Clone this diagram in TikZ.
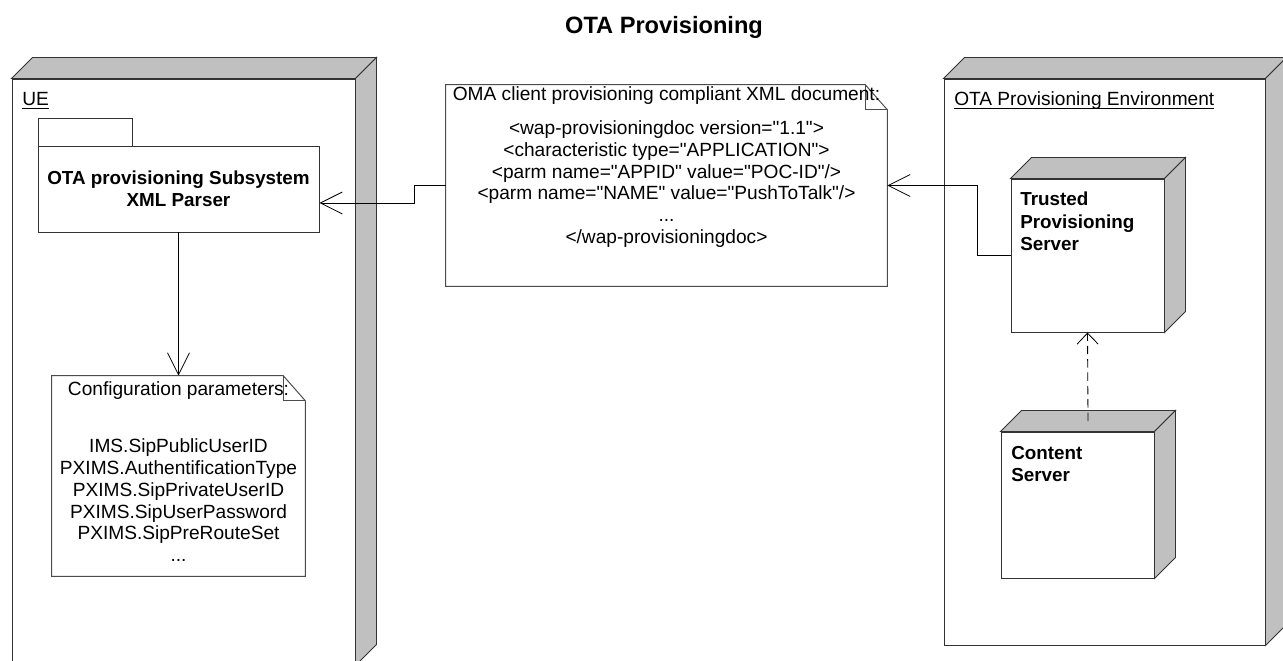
\documentclass[tikz,border=0pt]{standalone}
\usepackage{fontspec}
\setmainfont{Liberation Sans}[Ligatures=TeXOff]
\usetikzlibrary{arrows.meta}
\definecolor{sidegray}{RGB}{192,192,192}
\newcommand{\px}{0.025cm}

% shaded top and side of a deployment node
\newcommand{\cubefaces}[1]{%
  \filldraw[face] (#1.north west) -- ++(21,-21) -- ([shift={(21,-21)}]#1.north east) -- (#1.north east) -- cycle;
  \filldraw[face] (#1.north east) -- ([shift={(21,-21)}]#1.north east) -- ([shift={(21,-21)}]#1.south east) -- (#1.south east) -- cycle;}

% note outline with folded corner
\newcommand{\dogear}[1]{%
  \draw[noteline] (#1.north west) -- ([xshift=-22*\px]#1.north east) -- ([yshift=-25*\px]#1.north east) -- (#1.south east) -- (#1.south west) -- cycle;
  \draw[noteline] ([xshift=-22*\px]#1.north east) |- ([yshift=-25*\px]#1.north east);}

\begin{document}
\begin{tikzpicture}[
    x=0.025cm, y=-0.025cm,
    box/.style={rectangle, draw=black!80, fill=white, line width=0.7pt, inner sep=0pt},
    boxsize/.style 2 args={minimum width=#1*\px, minimum height=#2*\px},
    face/.style={fill=sidegray, draw=black!80, line width=0.7pt},
    notebox/.style={rectangle, inner sep=0pt},
    noteline/.style={draw=black!70, line width=0.7pt},
    txt/.style={font=\fontsize{13.6}{15.5}\selectfont, inner sep=0pt},
    btxt/.style={font=\bfseries\fontsize{13.4}{15.9}\selectfont, inner sep=0pt, align=left},
    assoc/.style={line width=0.6pt, -{Straight Barb[length=15.6pt,width=15.6pt]}},
    dep/.style={line width=0.6pt, dash pattern=on 6pt off 3.5pt, -{Straight Barb[length=7.8pt,width=14.9pt]}}
]
\useasboundingbox (0,0) rectangle (1283,661);

% Title
\node[font=\bfseries\fontsize{16.8}{20}\selectfont] (title) at (664,27) {OTA Provisioning};

% Deployment nodes
\node[box, boxsize={343}{586}] (ue) at (183.5,372) {};
\node[box, boxsize={321}{566}] (env) at (1104.5,362) {};
\cubefaces{ue}
\cubefaces{env}
\node[txt, anchor=base west] (uelbl) at (22,106) {\underline{\smash{UE}}};
\node[txt, anchor=base west] (envlbl) at (954,106) {\underline{\smash{OTA Provisioning Environment}}};

% Subsystem inside UE
\node[box, boxsize={94}{28}] (tab) at (85,132) {};
\node[box, boxsize={281}{86}, btxt, align=center] (parser) at (178.5,189) {OTA provisioning Subsystem\\XML Parser};

% Notes
\node[notebox, boxsize={441}{201}] (oma) at (666.5,185.5) {};
\dogear{oma}
\node[txt, align=center, anchor=north] (omatxt) at (666.5,86.3) {OMA client provisioning compliant XML document:\\[8.7pt]
  <wap-provisioningdoc version="1.1">\\
  <characteristic type="APPLICATION">\\
  <parm name="APPID" value="POC-ID"/>\\
  <parm name="NAME" value="PushToTalk"/>\\
  ...\\
  </wap-provisioningdoc>};

\node[notebox, boxsize={253}{200}] (config) at (178.5,476) {};
\dogear{config}
\node[txt, align=center, anchor=north] (configtxt) at (178.5,381.3) {Configuration parameters:\\[25.2pt]
  IMS.SipPublicUserID\\
  PXIMS.AuthentificationType\\
  PXIMS.SipPrivateUserID\\
  PXIMS.SipUserPassword\\
  PXIMS.SipPreRouteSet\\
  ...};

% Servers
\node[box, boxsize={153}{153}] (trusted) at (1087.5,255.5) {};
\cubefaces{trusted}
\node[btxt, anchor=north west] (trustedtxt) at (1020,192) {Trusted\\Provisioning\\Server};

\node[box, boxsize={153}{146}] (content) at (1077.5,505) {};
\cubefaces{content}
\node[btxt, anchor=north west] (contenttxt) at (1011,446) {Content\\Server};

% Connectors
\draw[assoc] (trusted.west) -- ++(-33,0) |- (oma.east);
\draw[assoc] (oma.west) -- ++(-31,0) |- ([yshift=-14*\px]parser.east);
\draw[assoc] (parser) -- (config);
\coordinate (contop) at ([shift={(10.5,-10.5)}]content.north);
\draw[dep] (contop) -- (trusted.south);

\end{tikzpicture}
\end{document}
